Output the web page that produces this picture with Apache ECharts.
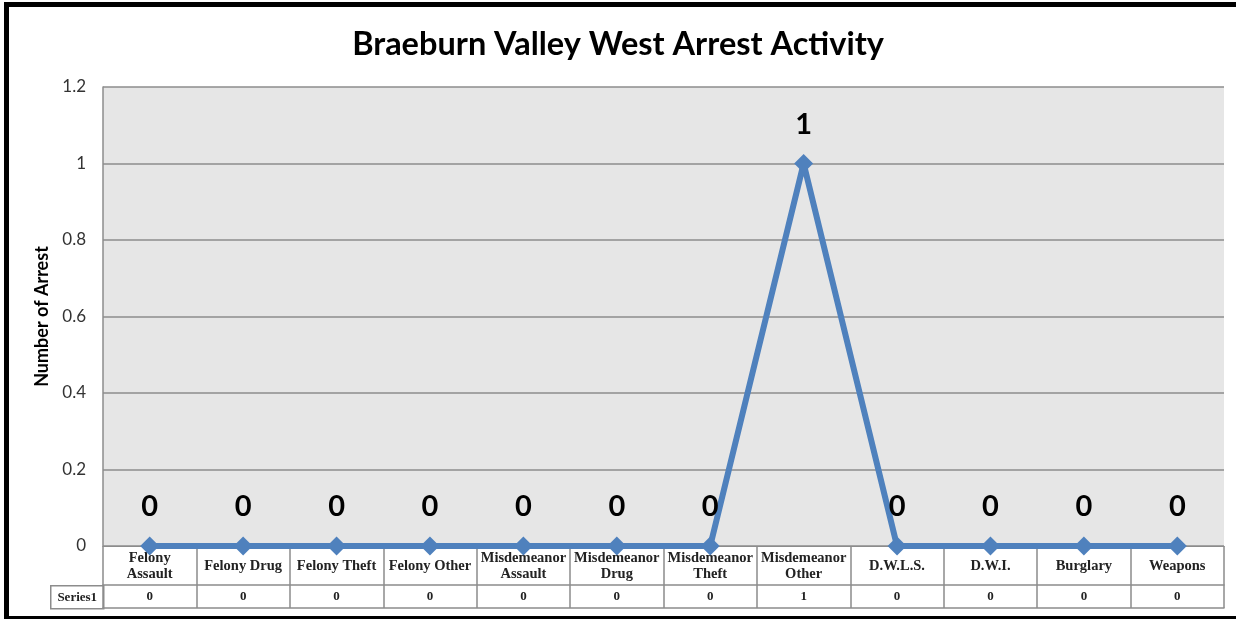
<!DOCTYPE html>
<html lang="en">
<head>
    <meta charset="utf-8">
    <title>Braeburn Valley West Arrest Activity</title>
    <script src="https://cdn.jsdelivr.net/npm/echarts@6/dist/echarts.min.js"></script>
    <style>
        html, body { margin: 0; padding: 0; background: #fff; }
        #main { width: 1236px; height: 619px; }
    </style>
</head>
<body>
<div id="main"></div>
<script>
    // data
    var categories = ['Felony\nAssault', 'Felony Drug', 'Felony Theft', 'Felony Other',
        'Misdemeanor\nAssault', 'Misdemeanor\nDrug', 'Misdemeanor\nTheft', 'Misdemeanor\nOther',
        'D.W.L.S.', 'D.W.I.', 'Burglary', 'Weapons'];
    var seriesName = 'Series1';
    var arrests = [0, 0, 0, 0, 0, 0, 0, 1, 0, 0, 0, 0];
    var yTicks = [0, 0.2, 0.4, 0.6, 0.8, 1, 1.2];

    var gridColor = '#8c8c8c';
    var tableFont = '"Liberation Serif", "DejaVu Serif", serif';
    var sansFont = 'Lato, "Open Sans", sans-serif';

    var chart = echarts.init(document.getElementById('main'));
    var option = {
        animation: false,
        backgroundColor: '#fff',
        title: {
            text: 'Braeburn Valley West Arrest Activity',
            left: 'center',
            top: 23,
            textStyle: { fontFamily: sansFont, fontWeight: 'bold', fontSize: 32.5, color: '#000' }
        },
        grid: {
            left: 103, right: 12, top: 87, bottom: 73,
            show: true, backgroundColor: '#e6e6e6', borderWidth: 0
        },
        xAxis: [
            {
                // category row of the data table
                type: 'category',
                data: categories,
                boundaryGap: true,
                axisLine: { show: true, lineStyle: { color: gridColor, width: 1 } },
                axisTick: { show: true, interval: 0, length: 62, lineStyle: { color: gridColor, width: 1.5 } },
                axisLabel: {
                    interval: 0, margin: 20, verticalAlign: 'middle',
                    fontFamily: tableFont, fontWeight: 'bold', fontSize: 14.5, lineHeight: 16, color: '#222'
                }
            },
            {
                // values row of the data table
                type: 'category',
                data: arrests.map(String),
                position: 'bottom',
                offset: 39,
                axisLine: { show: true, lineStyle: { color: gridColor, width: 1.5 } },
                axisTick: { show: false },
                axisLabel: {
                    interval: 0, margin: 12, verticalAlign: 'middle',
                    fontFamily: tableFont, fontWeight: 'bold', fontSize: 13, color: '#222'
                }
            },
            {
                type: 'category',
                data: categories,
                position: 'bottom',
                offset: 62,
                axisLine: { show: true, lineStyle: { color: gridColor, width: 1.5 } },
                axisTick: { show: false },
                axisLabel: { show: false }
            }
        ],
        yAxis: {
            type: 'value',
            min: yTicks[0],
            max: yTicks[yTicks.length - 1],
            interval: 0.2,
            name: 'Number of Arrest',
            nameLocation: 'middle',
            nameGap: 52,
            nameTextStyle: { fontFamily: sansFont, fontWeight: 'bold', fontSize: 18, color: '#000' },
            axisLine: { show: true, lineStyle: { color: gridColor, width: 1.5 } },
            axisTick: { show: false },
            axisLabel: {
                margin: 17, fontFamily: sansFont, fontSize: 17, color: '#333',
                formatter: function (v) { return String(Math.round(v * 10) / 10); }
            },
            splitLine: { show: true, lineStyle: { color: gridColor, width: 1.5 } }
        },
        series: [{
            name: seriesName,
            type: 'line',
            data: arrests,
            symbol: 'diamond',
            symbolSize: 19,
            lineStyle: { color: '#4f81bd', width: 6 },
            itemStyle: { color: '#4f81bd' },
            label: {
                show: true, position: 'top', distance: 15,
                fontFamily: sansFont, fontWeight: 'bold', fontSize: 29, color: '#000'
            },
            z: 5
        }],
        graphic: [
            {
                // legend-key cell of the data table
                type: 'group',
                left: 50, top: 585,
                children: [
                    { type: 'rect', shape: { x: 0, y: 0, width: 53, height: 23 },
                      style: { fill: '#fff', stroke: gridColor, lineWidth: 1.5 } },
                    { type: 'text', x: 26.5, y: 11.5,
                      style: { text: seriesName, align: 'center', verticalAlign: 'middle',
                               font: 'bold 13px ' + tableFont, fill: '#222' } }
                ]
            },
            {
                // picture frame, cut off on the right like the source image
                type: 'rect', left: 4, top: 2, silent: true,
                shape: { x: 0, y: 0, width: 1300, height: 614 },
                style: { fill: 'none', stroke: '#000', lineWidth: 5 }
            }
        ]
    };
    chart.setOption(option);
</script>
</body>
</html>
